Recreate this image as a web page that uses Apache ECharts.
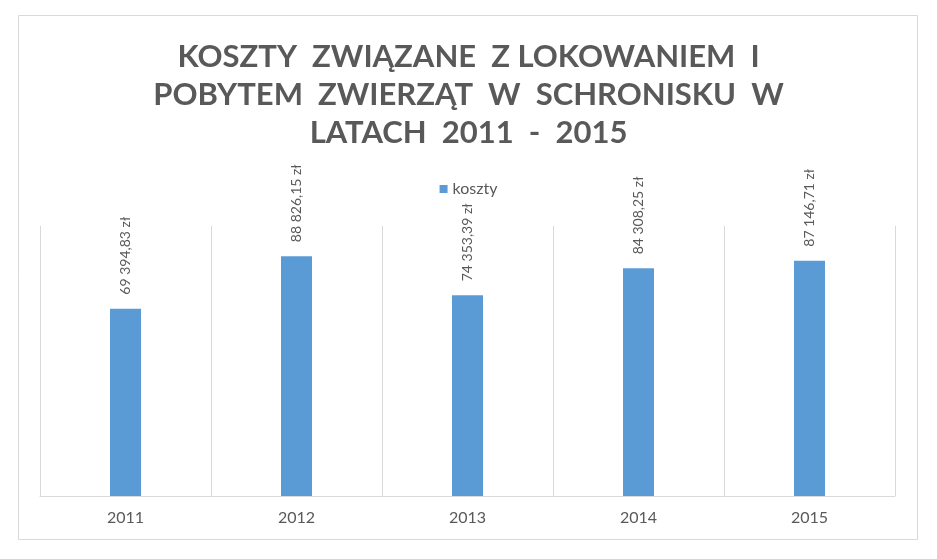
<!DOCTYPE html>
<html>
<head>
<meta charset="utf-8">
<script src="https://cdn.jsdelivr.net/npm/echarts@6/dist/echarts.min.js"></script>
<style>html,body{margin:0;padding:0;background:#fff;}#c{width:937px;height:559px;}</style>
</head>
<body>
<div id="c"></div>
<script>
const titleText = "KOSZTY  ZWIĄZANE  Z LOKOWANIEM  I\nPOBYTEM  ZWIERZĄT  W  SCHRONISKU  W\nLATACH  2011  -  2015";
const seriesName = "koszty";
const categories = ["2011", "2012", "2013", "2014", "2015"];
const values = [69394.83, 88826.15, 74353.39, 84308.25, 87146.71];
const yMax = 100000;

function fmtPLN(v) {
  const parts = v.toFixed(2).split(".");
  const intPart = parts[0].replace(/\B(?=(\d{3})+(?!\d))/g, " ");
  return intPart + "," + parts[1] + " zł";
}

const chart = echarts.init(document.getElementById('c'), null, {renderer: 'canvas'});
chart.setOption({
  backgroundColor: '#ffffff',
  animation: false,
  graphic: [{
    type: 'rect',
    shape: {x: 18.5, y: 15.5, width: 899, height: 524},
    style: {fill: 'none', stroke: '#d9d9d9', lineWidth: 1},
    silent: true
  }],
  title: {
    text: titleText,
    left: 'center',
    top: 33,
    textStyle: {
      fontFamily: 'Lato',
      fontWeight: 'bold',
      fontSize: 31,
      color: '#595959',
      lineHeight: 38
    }
  },
  legend: {
    data: [seriesName],
    top: 176,
    left: 'center',
    icon: 'rect',
    itemWidth: 8,
    itemHeight: 8,
    itemGap: 5,
    textStyle: {color: '#595959', fontSize: 16, fontFamily: 'Lato'}
  },
  grid: {left: 40, right: 42, top: 226, bottom: 63, containLabel: false},
  xAxis: {
    type: 'category',
    data: categories,
    boundaryGap: true,
    axisLine: {show: true, lineStyle: {color: '#d9d9d9', width: 1}},
    axisTick: {show: false},
    axisLabel: {color: '#595959', fontSize: 16, fontFamily: 'Lato', margin: 14},
    splitLine: {show: true, lineStyle: {color: '#d9d9d9', width: 1}}
  },
  yAxis: {
    type: 'value',
    min: 0,
    max: yMax,
    show: false,
    splitLine: {show: false}
  },
  series: [{
    name: seriesName,
    type: 'bar',
    data: values,
    barWidth: 31,
    itemStyle: {color: '#5b9bd5'},
    label: {
      show: true,
      position: 'top',
      rotate: 90,
      align: 'left',
      verticalAlign: 'middle',
      distance: 14,
      color: '#595959',
      fontSize: 14,
      fontFamily: 'Lato',
      formatter: p => fmtPLN(p.value)
    }
  }]
});
</script>
</body>
</html>
